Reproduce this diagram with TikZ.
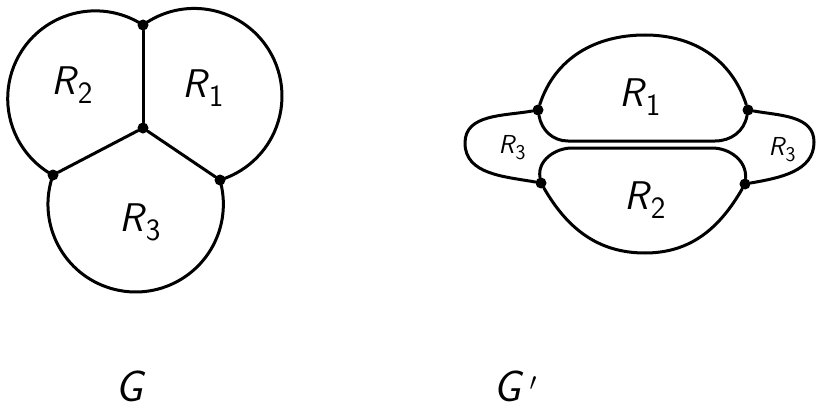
\documentclass[tikz,border=0pt]{standalone}
\newcommand{\Rlab}[3]{\fontsize{#1}{#1}\selectfont\sffamily\itshape R\kern0.05em\raisebox{-0.22em}{\fontsize{#2}{#2}\selectfont\upshape #3}}
\begin{document}
\begin{tikzpicture}[x=1pt,y=1pt,
  edge/.style={line width=3pt, line cap=round},
  vtx/.style={circle, fill=black, inner sep=0pt, minimum size=11pt},
  lbl/.style={inner sep=0pt}]
\useasboundingbox (0,-412) rectangle (818,0);
% ---------- G ----------
\node[vtx] (t) at (143,-25) {};
\node[vtx] (c) at (143,-128) {};
\node[vtx] (l) at (53,-175) {};
\node[vtx] (r) at (220,-180) {};
\draw[edge] (t) -- (c);
\draw[edge] (c) -- (l);
\draw[edge] (c) -- (r);
\draw[edge] (t.center) arc[start angle=57, end angle=241, radius=87.6];
\draw[edge] (t.center) arc[start angle=125.8, end angle=-73, radius=87.7];
\draw[edge] (l.center) arc[start angle=160.5, end angle=376.1, radius=87.7];
\node[lbl] (g2) at (72,-85) {\Rlab{40}{31}{2}};
\node[lbl] (g1) at (203,-88) {\Rlab{40}{31}{1}};
\node[lbl] (g3) at (140,-222) {\Rlab{40}{31}{3}};
\node[lbl, anchor=base] (gname) at (129,-401) {\fontsize{44}{44}\selectfont\sffamily\itshape G};
% ---------- G' ----------
\node[vtx] (a) at (538,-110) {};
\node[vtx] (b) at (748,-110) {};
\node[vtx] (cc) at (541,-183) {};
\node[vtx] (d) at (745,-184) {};
\draw[edge] (a) to[out=72,in=180] (645,-35) to[out=0,in=108] (b);
\draw[edge] (a) to[out=-80,in=180] (568,-141) -- (715,-141) to[out=0,in=-100] (b);
\draw[edge] (cc) to[out=100,in=180] (572,-148) -- (712,-148) to[out=0,in=85] (d);
\draw[edge] (cc) to[out=-60,in=180] (645,-253) to[out=0,in=-120] (d);
\draw[edge] (a) to[out=190,in=90] (465,-143) to[out=-90,in=170] (cc);
\draw[edge] (b) to[out=-10,in=90] (814,-142) to[out=-90,in=10] (d);
\node[lbl] (h1) at (640,-97) {\Rlab{40}{31}{1}};
\node[lbl] (h2) at (645,-200) {\Rlab{40}{31}{2}};
\node[lbl] (h3l) at (512,-148) {\Rlab{26}{21}{3}};
\node[lbl] (h3r) at (782,-150) {\Rlab{26}{21}{3}};
\node[lbl, anchor=base west] (hname) at (493,-401) {\fontsize{44}{44}\selectfont\sffamily\itshape G\kern0.2em\raisebox{0.25em}{\fontsize{64}{64}\selectfont$\prime$}};
\end{tikzpicture}
\end{document}
